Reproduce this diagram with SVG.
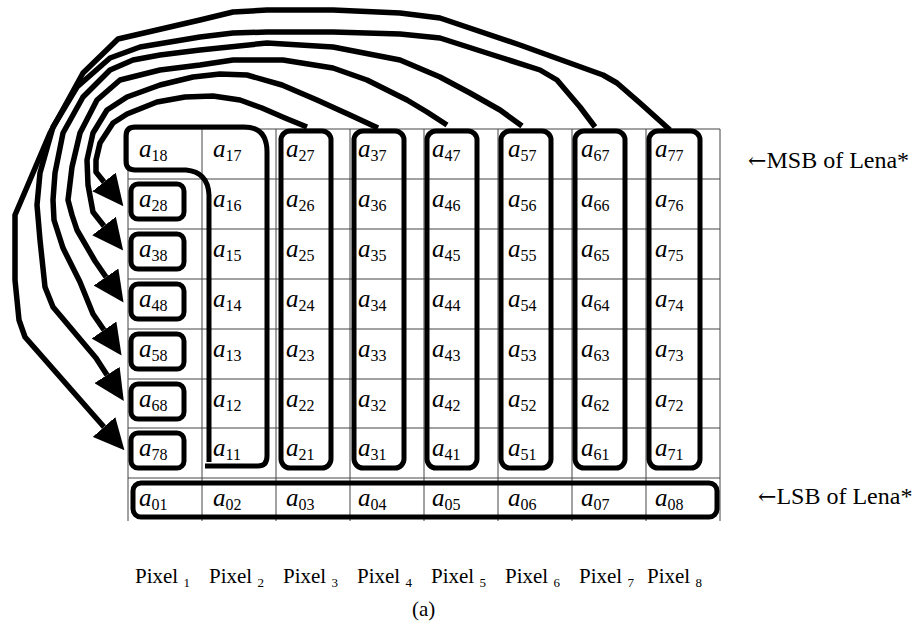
<svg xmlns="http://www.w3.org/2000/svg" width="922" height="624" viewBox="0 0 922 624">
<style>
.g{stroke:#444;stroke-width:1;fill:none}
.bx{fill:none;stroke:#000;stroke-width:5}
.c{fill:none;stroke:#000;stroke-width:5.5;stroke-linejoin:round;marker-end:url(#ah)}
.t{font-family:"Liberation Serif",serif;font-size:25px;fill:#000}
.t .a{font-style:italic}
.t .s{font-size:16px}
.lb{font-family:"Liberation Serif",serif;font-size:21px;fill:#000}
.lb .s{font-size:13px}
.side{font-family:"Liberation Serif",serif;font-size:24px;fill:#000}
.side .ar{font-family:"DejaVu Serif",serif;font-size:22px}
</style>
<defs>
<marker id="ah" markerUnits="userSpaceOnUse" markerWidth="31" markerHeight="30" viewBox="0 0 31 30" refX="0" refY="15" orient="auto"><path d="M0,0 L31,15 L0,30 Z" fill="#000"/></marker>
</defs>
<g id="grid">
<path class="g" d="M128,129H720M128,179H720M128,229H720M128,279H720M128,329H720M128,379H720M128,428H720M128,478H720"/>
<path class="g" d="M128,129V521M202,129V521M276,129V521M350,129V521M424,129V521M498,129V521M572,129V521M646,129V521M720,129V521"/>
</g>
<g id="cells">
<text class="t" x="139" y="157"><tspan class="a">a</tspan><tspan class="s" dy="4">18</tspan></text>
<text class="t" x="139" y="207"><tspan class="a">a</tspan><tspan class="s" dy="4">28</tspan></text>
<text class="t" x="139" y="257"><tspan class="a">a</tspan><tspan class="s" dy="4">38</tspan></text>
<text class="t" x="139" y="307"><tspan class="a">a</tspan><tspan class="s" dy="4">48</tspan></text>
<text class="t" x="139" y="357"><tspan class="a">a</tspan><tspan class="s" dy="4">58</tspan></text>
<text class="t" x="139" y="407"><tspan class="a">a</tspan><tspan class="s" dy="4">68</tspan></text>
<text class="t" x="139" y="456"><tspan class="a">a</tspan><tspan class="s" dy="4">78</tspan></text>
<text class="t" x="213" y="157"><tspan class="a">a</tspan><tspan class="s" dy="4">17</tspan></text>
<text class="t" x="213" y="207"><tspan class="a">a</tspan><tspan class="s" dy="4">16</tspan></text>
<text class="t" x="213" y="257"><tspan class="a">a</tspan><tspan class="s" dy="4">15</tspan></text>
<text class="t" x="213" y="307"><tspan class="a">a</tspan><tspan class="s" dy="4">14</tspan></text>
<text class="t" x="213" y="357"><tspan class="a">a</tspan><tspan class="s" dy="4">13</tspan></text>
<text class="t" x="213" y="407"><tspan class="a">a</tspan><tspan class="s" dy="4">12</tspan></text>
<text class="t" x="213" y="456"><tspan class="a">a</tspan><tspan class="s" dy="4">11</tspan></text>
<text class="t" x="286" y="157"><tspan class="a">a</tspan><tspan class="s" dy="4">27</tspan></text>
<text class="t" x="286" y="207"><tspan class="a">a</tspan><tspan class="s" dy="4">26</tspan></text>
<text class="t" x="286" y="257"><tspan class="a">a</tspan><tspan class="s" dy="4">25</tspan></text>
<text class="t" x="286" y="307"><tspan class="a">a</tspan><tspan class="s" dy="4">24</tspan></text>
<text class="t" x="286" y="357"><tspan class="a">a</tspan><tspan class="s" dy="4">23</tspan></text>
<text class="t" x="286" y="407"><tspan class="a">a</tspan><tspan class="s" dy="4">22</tspan></text>
<text class="t" x="286" y="456"><tspan class="a">a</tspan><tspan class="s" dy="4">21</tspan></text>
<text class="t" x="358" y="157"><tspan class="a">a</tspan><tspan class="s" dy="4">37</tspan></text>
<text class="t" x="358" y="207"><tspan class="a">a</tspan><tspan class="s" dy="4">36</tspan></text>
<text class="t" x="358" y="257"><tspan class="a">a</tspan><tspan class="s" dy="4">35</tspan></text>
<text class="t" x="358" y="307"><tspan class="a">a</tspan><tspan class="s" dy="4">34</tspan></text>
<text class="t" x="358" y="357"><tspan class="a">a</tspan><tspan class="s" dy="4">33</tspan></text>
<text class="t" x="358" y="407"><tspan class="a">a</tspan><tspan class="s" dy="4">32</tspan></text>
<text class="t" x="358" y="456"><tspan class="a">a</tspan><tspan class="s" dy="4">31</tspan></text>
<text class="t" x="432" y="157"><tspan class="a">a</tspan><tspan class="s" dy="4">47</tspan></text>
<text class="t" x="432" y="207"><tspan class="a">a</tspan><tspan class="s" dy="4">46</tspan></text>
<text class="t" x="432" y="257"><tspan class="a">a</tspan><tspan class="s" dy="4">45</tspan></text>
<text class="t" x="432" y="307"><tspan class="a">a</tspan><tspan class="s" dy="4">44</tspan></text>
<text class="t" x="432" y="357"><tspan class="a">a</tspan><tspan class="s" dy="4">43</tspan></text>
<text class="t" x="432" y="407"><tspan class="a">a</tspan><tspan class="s" dy="4">42</tspan></text>
<text class="t" x="432" y="456"><tspan class="a">a</tspan><tspan class="s" dy="4">41</tspan></text>
<text class="t" x="508" y="157"><tspan class="a">a</tspan><tspan class="s" dy="4">57</tspan></text>
<text class="t" x="508" y="207"><tspan class="a">a</tspan><tspan class="s" dy="4">56</tspan></text>
<text class="t" x="508" y="257"><tspan class="a">a</tspan><tspan class="s" dy="4">55</tspan></text>
<text class="t" x="508" y="307"><tspan class="a">a</tspan><tspan class="s" dy="4">54</tspan></text>
<text class="t" x="508" y="357"><tspan class="a">a</tspan><tspan class="s" dy="4">53</tspan></text>
<text class="t" x="508" y="407"><tspan class="a">a</tspan><tspan class="s" dy="4">52</tspan></text>
<text class="t" x="508" y="456"><tspan class="a">a</tspan><tspan class="s" dy="4">51</tspan></text>
<text class="t" x="581" y="157"><tspan class="a">a</tspan><tspan class="s" dy="4">67</tspan></text>
<text class="t" x="581" y="207"><tspan class="a">a</tspan><tspan class="s" dy="4">66</tspan></text>
<text class="t" x="581" y="257"><tspan class="a">a</tspan><tspan class="s" dy="4">65</tspan></text>
<text class="t" x="581" y="307"><tspan class="a">a</tspan><tspan class="s" dy="4">64</tspan></text>
<text class="t" x="581" y="357"><tspan class="a">a</tspan><tspan class="s" dy="4">63</tspan></text>
<text class="t" x="581" y="407"><tspan class="a">a</tspan><tspan class="s" dy="4">62</tspan></text>
<text class="t" x="581" y="456"><tspan class="a">a</tspan><tspan class="s" dy="4">61</tspan></text>
<text class="t" x="655" y="157"><tspan class="a">a</tspan><tspan class="s" dy="4">77</tspan></text>
<text class="t" x="655" y="207"><tspan class="a">a</tspan><tspan class="s" dy="4">76</tspan></text>
<text class="t" x="655" y="257"><tspan class="a">a</tspan><tspan class="s" dy="4">75</tspan></text>
<text class="t" x="655" y="307"><tspan class="a">a</tspan><tspan class="s" dy="4">74</tspan></text>
<text class="t" x="655" y="357"><tspan class="a">a</tspan><tspan class="s" dy="4">73</tspan></text>
<text class="t" x="655" y="407"><tspan class="a">a</tspan><tspan class="s" dy="4">72</tspan></text>
<text class="t" x="655" y="456"><tspan class="a">a</tspan><tspan class="s" dy="4">71</tspan></text>
<text class="t" x="139" y="506"><tspan class="a">a</tspan><tspan class="s" dy="4">01</tspan></text>
<text class="t" x="213" y="506"><tspan class="a">a</tspan><tspan class="s" dy="4">02</tspan></text>
<text class="t" x="286" y="506"><tspan class="a">a</tspan><tspan class="s" dy="4">03</tspan></text>
<text class="t" x="358" y="506"><tspan class="a">a</tspan><tspan class="s" dy="4">04</tspan></text>
<text class="t" x="432" y="506"><tspan class="a">a</tspan><tspan class="s" dy="4">05</tspan></text>
<text class="t" x="508" y="506"><tspan class="a">a</tspan><tspan class="s" dy="4">06</tspan></text>
<text class="t" x="581" y="506"><tspan class="a">a</tspan><tspan class="s" dy="4">07</tspan></text>
<text class="t" x="655" y="506"><tspan class="a">a</tspan><tspan class="s" dy="4">08</tspan></text>
</g>
<g id="group-col1">
<rect class="bx" x="131" y="184" width="53" height="35" rx="7"/>
<rect class="bx" x="131" y="234" width="53" height="35" rx="7"/>
<rect class="bx" x="131" y="284" width="53" height="35" rx="7"/>
<rect class="bx" x="131" y="334" width="53" height="35" rx="7"/>
<rect class="bx" x="131" y="384" width="53" height="35" rx="7"/>
<rect class="bx" x="131" y="433" width="53" height="35" rx="7"/>
</g>
<g id="group-col2">
<path class="bx" stroke-linejoin="round" d="M205,466 L258,466 Q267,466 267,456 L267,152 Q267,127 244,127 L135,127 Q126,127 126,136 L126,161 Q126,170 135,170 L186,170 Q208,172 209,195 L209,462"/>
</g>
<g id="group-cols">
<rect class="bx" x="281" y="131" width="50" height="337" rx="9"/>
<rect class="bx" x="354" y="131" width="50" height="337" rx="9"/>
<rect class="bx" x="427" y="131" width="50" height="337" rx="9"/>
<rect class="bx" x="501" y="131" width="50" height="337" rx="9"/>
<rect class="bx" x="575" y="131" width="50" height="337" rx="9"/>
<rect class="bx" x="649" y="131" width="51" height="337" rx="9"/>
</g>
<g id="group-lsb">
<rect class="bx" x="133" y="483" width="584" height="34" rx="8"/>
</g>
<g id="connectors">
<path class="c" d="M307,127 L285,118 L262,108 L240,100 L213,96 L185,97 L157,102 L127,114 L113,123 L100,143 L96,160 L96,172 L104,182"/>
<path class="c" d="M378,128 L350,115 L317,100 L282,85 L247,75 L220,74 L193,77 L160,85 L127,97 L107,110 L93,133 L87,160 L88,185 L93,212 L104,226"/>
<path class="c" d="M447,125 L427,112 L407,100 L367,80 L333,68 L283,60 L233,60 L200,65 L160,70 L120,80 L97,100 L80,133 L72,167 L68,200 L72,215 L77,230 L95,261 L106,277"/>
<path class="c" d="M522,126 L500,110 L470,93 L440,77 L400,60 L333,47 L267,43 L200,50 L160,55 L133,60 L110,70 L83,97 L63,133 L55,173 L53,200 L54,220 L63,248 L80,282 L93,314 L104,330"/>
<path class="c" d="M595,127 L580,107 L557,80 L540,70 L490,54 L440,38 L400,34 L333,32 L267,32 L233,33 L200,37 L140,47 L110,58 L77,87 L53,127 L40,173 L37,205 L40,240 L45,287 L53,307 L96,358 L107,375"/>
<path class="c" d="M670,130 L640,103 L617,83 L603,75 L520,45 L440,18 L400,13 L333,10 L267,10 L233,12 L200,20 L118,39 L83,73 L50,133 L27,187 L15,215 L15,280 L19,320 L25,337 L104,427"/>
</g>
<g id="labels">
<text class="side" x="748" y="168"><tspan class="ar">←</tspan>MSB of Lena*</text>
<text class="side" x="758" y="504"><tspan class="ar">←</tspan>LSB of Lena*</text>
<text class="lb" x="135" y="583">Pixel <tspan class="s" dy="4">1</tspan></text>
<text class="lb" x="209" y="583">Pixel <tspan class="s" dy="4">2</tspan></text>
<text class="lb" x="283" y="583">Pixel <tspan class="s" dy="4">3</tspan></text>
<text class="lb" x="357" y="583">Pixel <tspan class="s" dy="4">4</tspan></text>
<text class="lb" x="431" y="583">Pixel <tspan class="s" dy="4">5</tspan></text>
<text class="lb" x="505" y="583">Pixel <tspan class="s" dy="4">6</tspan></text>
<text class="lb" x="579" y="583">Pixel <tspan class="s" dy="4">7</tspan></text>
<text class="lb" x="647" y="583">Pixel <tspan class="s" dy="4">8</tspan></text>
<text class="lb" x="412" y="616">(a)</text>
</g>
</svg>
